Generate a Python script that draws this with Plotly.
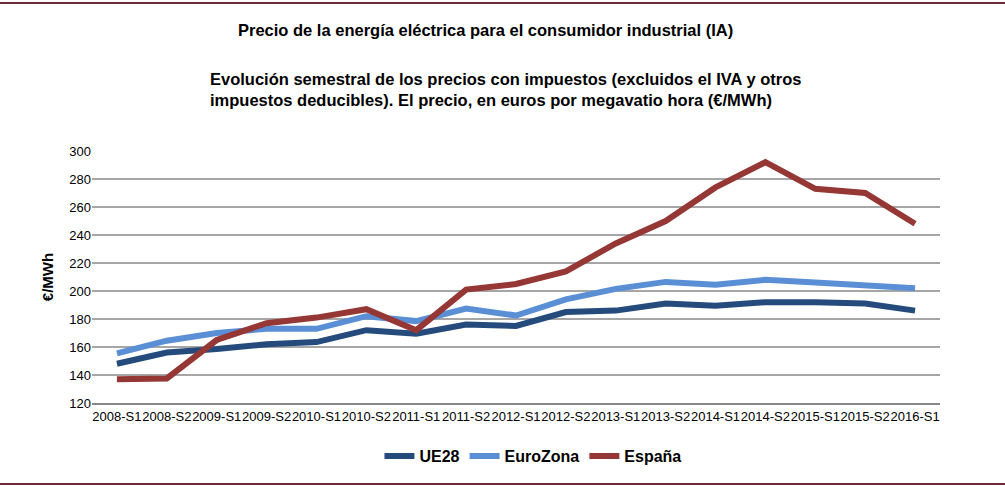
import plotly.graph_objects as go

categories = ["2008-S1", "2008-S2", "2009-S1", "2009-S2", "2010-S1", "2010-S2",
              "2011-S1", "2011-S2", "2012-S1", "2012-S2", "2013-S1", "2013-S2",
              "2014-S1", "2014-S2", "2015-S1", "2015-S2", "2016-S1"]
ue28 = [148, 156, 158.5, 162, 163.5, 172, 169.5, 176, 175, 185, 186, 191, 189.5, 192, 192, 191, 186]
eurozona = [155.5, 164.5, 170, 173, 173, 182, 178.5, 187.5, 182.5, 194, 201.5, 206.5, 204.5, 208, 206, 204.5, 202]
espana = [137, 137.5, 165, 177, 181, 187, 172, 201, 205, 214, 234, 250, 274, 292, 273, 270, 248]
y_ticks = [120, 140, 160, 180, 200, 220, 240, 260, 280, 300]

FONT = "Liberation Sans"
W, H = 1005, 487
ML, MR, MT, MB = 92, 65, 151, 84

fig = go.Figure()
for name, vals, col in [("UE28", ue28, "#254B7C"),
                        ("EuroZona", eurozona, "#5A8FD6"),
                        ("España", espana, "#953735")]:
    fig.add_trace(go.Scatter(x=categories, y=vals, name=name, mode="lines",
                             line=dict(color=col, width=6)))

ph = H - MT - MB
pw = W - ML - MR
def py(pix):  # pixel y -> paper
    return (H - MB - pix) / ph
def px(pix):
    return (pix - ML) / pw

fig.update_layout(
    width=W, height=H,
    margin=dict(l=ML, r=MR, t=MT, b=MB),
    paper_bgcolor="white", plot_bgcolor="white",
    font=dict(family=FONT, color="#000000"),
    showlegend=True,
    legend=dict(orientation="h", x=0.52, xanchor="center", y=py(456), yanchor="middle",
                font=dict(family=FONT, size=16, color="#000000", weight="bold"),
                traceorder="normal"),
    xaxis=dict(type="category", range=[-0.5, 16.5], tickangle=0,
               tickfont=dict(size=13, family=FONT), showgrid=False,
               showline=True, linecolor="#878787", linewidth=2, ticks="",
               tickmode="array", tickvals=categories, ticktext=categories),
    yaxis=dict(range=[120, 300], tickvals=y_ticks, showgrid=True,
               gridcolor="#A6A6A6", gridwidth=1.5, zeroline=False, showline=False,
               tickfont=dict(size=13, family=FONT), ticks="", ticklen=0,
               title=dict(text="<b>€/MWh</b>", font=dict(size=15), standoff=12)),
    annotations=[
        dict(text="<b>Precio de la energía eléctrica para el consumidor industrial (IA)</b>",
             xref="paper", yref="paper", x=px(485), y=py(30), xanchor="center", yanchor="middle",
             showarrow=False, font=dict(size=16.5, family=FONT)),
        dict(text="<b>Evolución semestral de los precios con impuestos (excluidos el IVA y otros<br>"
                  "impuestos deducibles). El precio, en euros por megavatio hora (€/MWh)</b>",
             xref="paper", yref="paper", x=px(208), y=py(89), xanchor="left", yanchor="middle",
             align="left", showarrow=False, font=dict(size=16.5, family=FONT)),
    ],
    shapes=[
        dict(type="line", xref="paper", yref="paper", x0=px(0), x1=px(W), y0=py(3), y1=py(3),
             line=dict(color="#6E2B3A", width=2)),
        dict(type="line", xref="paper", yref="paper", x0=px(0), x1=px(W), y0=py(484), y1=py(484),
             line=dict(color="#6E2B3A", width=2)),
    ],
)

fig.write_html("out.html")
